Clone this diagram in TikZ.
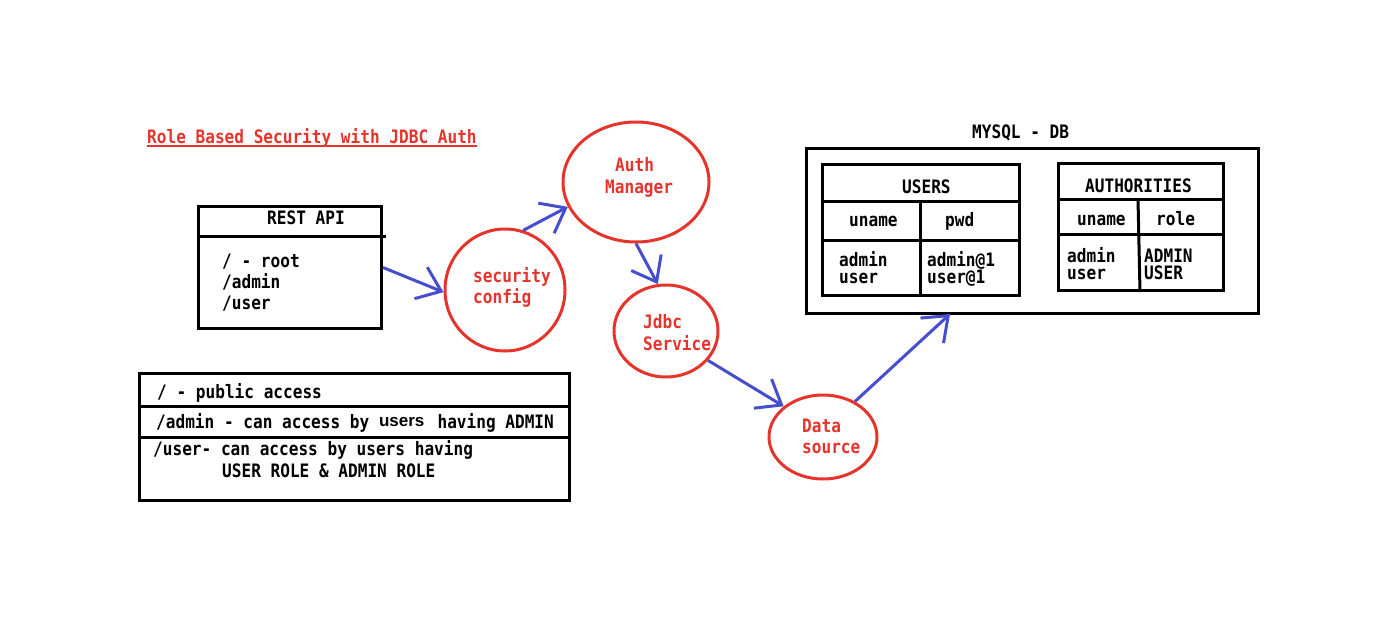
\documentclass[tikz,border=0pt]{standalone}
\usepackage{fontspec}
\setmonofont{DejaVu Sans Mono}[FakeStretch=0.87]
\newfontfamily\altsans{Liberation Sans}
\usetikzlibrary{arrows.meta,shapes.geometric}
\definecolor{dred}{RGB}{228,52,44}
\definecolor{dblue}{RGB}{70,78,205}
\tikzset{
 txt/.style={font=\ttfamily\bfseries\fontsize{18.5}{21}\selectfont, inner sep=0pt, anchor=base west},
 rtxt/.style={txt, text=dred},
 bubble/.style={ellipse, draw=dred, line width=3pt, inner sep=0pt},
 box/.style={draw=black, line width=3pt, rectangle, inner sep=0pt, anchor=north west},
 flow/.style={draw=dblue, line width=3pt, -{Straight Barb[length=22pt,width=34pt]}},
 rulel/.style={line width=3pt}
}
\begin{document}
\begin{tikzpicture}[x=1pt,y=-1pt]
\useasboundingbox (0,0) rectangle (1386,616);
\fill[white] (0,0) rectangle (1386,616);

% title
\node[rtxt] (title) at (147,143) {Role Based Security with JDBC Auth};
\draw[dred, line width=1.5pt] ([yshift=-3pt]title.base west) -- ([yshift=-3pt]title.base east);

% REST API box
\node[box, minimum width=183pt, minimum height=122pt] (rest) at (197,205) {};
\draw[rulel] (rest.west |- 0,236) -- ([xshift=3pt]rest.east |- 0,236);
\node[txt] (restt) at (267,224) {REST API};
\node[txt] (r1) at (222,267) {/ - root};
\node[txt] (r2) at (222,288) {/admin};
\node[txt] (r3) at (222,309) {/user};

% access box
\node[box, minimum width=430pt, minimum height=127pt] (acc) at (138,372) {};
\draw[rulel] (acc.west |- 0,406) -- (acc.east |- 0,406);
\draw[rulel] (acc.west |- 0,437) -- (acc.east |- 0,437);
\node[txt] (a1) at (157,398) {/ - public access};
\node[txt] (a2) at (156,428) {/admin - can access by \makebox[58.5pt][l]{\altsans\bfseries\fontsize{17}{20}\selectfont\raisebox{2pt}{users}}having ADMIN};
\node[txt] (a3) at (153,455) {/user- can access by users having};
\node[txt] (a4) at (222,477) {USER ROLE \& ADMIN ROLE};

% bubbles
\node[bubble, minimum width=120pt, minimum height=122pt] (sec) at (505,290) {};
\node[rtxt] (sect1) at (473,282) {security};
\node[rtxt] (sect2) at (473,303) {config};

\node[bubble, minimum width=146pt, minimum height=120pt] (auth) at (636,182) {};
\node[rtxt] (autht1) at (615,171) {Auth};
\node[rtxt] (autht2) at (605,193) {Manager};

\node[bubble, minimum width=104pt, minimum height=92pt] (jdbc) at (666,331) {};
\node[rtxt] (jdbct1) at (643,328) {Jdbc};
\node[rtxt] (jdbct2) at (643,350) {Service};

\node[bubble, minimum width=108pt, minimum height=84pt] (data) at (823,437) {};
\node[rtxt] (datat1) at (802,432) {Data};
\node[rtxt] (datat2) at (802,453) {source};

% DB
\node[txt] (dbt) at (972,138) {MYSQL - DB};
\node[box, minimum width=452pt, minimum height=165pt] (db) at (805,147) {};
\coordinate (dbin) at (950,314);

% USERS table
\node[box, minimum width=197pt, minimum height=131pt] (users) at (821,163) {};
\draw[rulel] (users.west |- 0,201) -- (users.east |- 0,201);
\draw[rulel] (users.west |- 0,240) -- (users.east |- 0,240);
\draw[rulel] (920,201) -- (920,294);
\node[txt] (ut) at (902,193) {USERS};
\node[txt] (uh1) at (849,226) {uname};
\node[txt] (uh2) at (945,226) {pwd};
\node[txt] (ud1) at (839,266) {admin};
\node[txt] (ud2) at (839,283) {user};
\node[txt] (ud3) at (927,266) {admin@1};
\node[txt] (ud4) at (927,283) {user@1};

% AUTHORITIES table
\node[box, minimum width=165pt, minimum height=127pt] (auths) at (1057,162) {};
\draw[rulel] (auths.west |- 0,199) -- (auths.east |- 0,199);
\draw[rulel] (auths.west |- 0,234) -- (auths.east |- 0,234);
\draw[rulel] (1138,199) -- (1140,292);
\node[txt] (at) at (1085,192) {AUTHORITIES};
\node[txt] (ah1) at (1077,225) {uname};
\node[txt] (ah2) at (1156,225) {role};
\node[txt] (ad1) at (1067,262) {admin};
\node[txt] (ad2) at (1067,279) {user};
\node[txt] (ad3) at (1144,262) {ADMIN};
\node[txt] (ad4) at (1144,279) {USER};

% arrows
\draw[flow] (rest.east) -- (sec.182);
\draw[flow] (sec.73) -- (auth.200);
\draw[flow] (auth.south) -- (jdbc.100);
\draw[flow] (jdbc.-35) -- (data.142);
\draw[flow] (data.48) -- (dbin);
\end{tikzpicture}
\end{document}
